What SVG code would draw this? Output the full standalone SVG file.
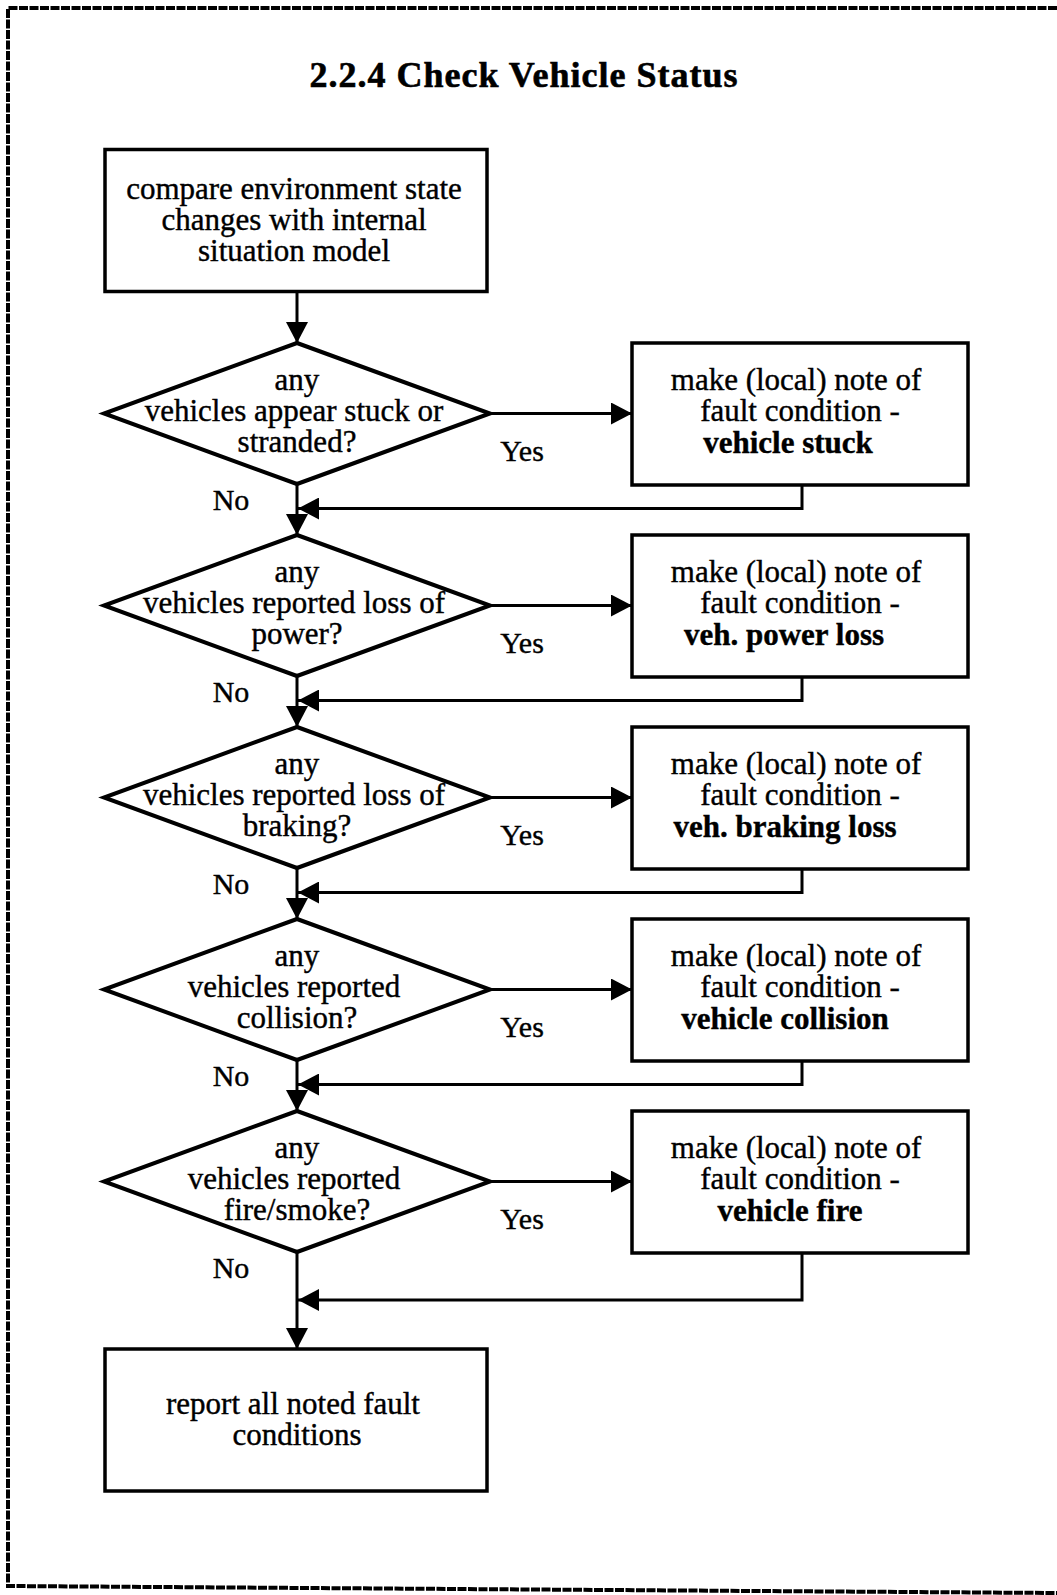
<svg xmlns="http://www.w3.org/2000/svg" width="1057" height="1595" viewBox="0 0 1057 1595">
  <style>
    .frame { fill: none; stroke: #000; stroke-width: 4; stroke-dasharray: 9 1.5; }
    .box { fill: #fff; stroke: #000; stroke-width: 3.5; }
    .dia { fill: #fff; stroke: #000; stroke-width: 4; stroke-linejoin: miter; }
    .line { fill: none; stroke: #000; stroke-width: 3; }
    text { font-family: "Liberation Serif", "Times New Roman", serif; font-size: 31px; fill: #000; stroke: #000; stroke-width: 0.4; text-anchor: middle; }
    .title { font-size: 36px; font-weight: bold; letter-spacing: 1px; stroke-width: 0.6; }
    .b { font-weight: bold; }
    .lbl { font-size: 30px; }
  </style>
  <defs>
    <marker id="arrow" markerUnits="userSpaceOnUse" markerWidth="22" markerHeight="22" refX="21" refY="11" orient="auto">
      <path d="M0,0 L21,11 L0,22 Z" fill="#000"/>
    </marker>
  </defs>

  <rect width="1057" height="1595" fill="#fff"/>
  <!-- page frame (open on the right) -->
  <path class="frame" d="M1057,8 H8 V1586 L1057,1593"/>

  <text class="title" x="524" y="87">2.2.4  Check Vehicle Status</text>

  <!-- connectors -->
  <g id="connectors">
    <!-- main flow downward -->
    <line class="line" x1="297" y1="292" x2="297" y2="343" marker-end="url(#arrow)"/>
    <line class="line" x1="297" y1="484" x2="297" y2="535" marker-end="url(#arrow)"/>
    <line class="line" x1="297" y1="676" x2="297" y2="727" marker-end="url(#arrow)"/>
    <line class="line" x1="297" y1="868" x2="297" y2="919" marker-end="url(#arrow)"/>
    <line class="line" x1="297" y1="1060" x2="297" y2="1111" marker-end="url(#arrow)"/>
    <line class="line" x1="297" y1="1252" x2="297" y2="1349" marker-end="url(#arrow)"/>
    <!-- Yes branches -->
    <line class="line" x1="490" y1="413.5" x2="632" y2="413.5" marker-end="url(#arrow)"/>
    <line class="line" x1="490" y1="605.5" x2="632" y2="605.5" marker-end="url(#arrow)"/>
    <line class="line" x1="490" y1="797.5" x2="632" y2="797.5" marker-end="url(#arrow)"/>
    <line class="line" x1="490" y1="989.5" x2="632" y2="989.5" marker-end="url(#arrow)"/>
    <line class="line" x1="490" y1="1181.5" x2="632" y2="1181.5" marker-end="url(#arrow)"/>
    <!-- returns from fault notes -->
    <path class="line" d="M802,485 V508.5 H298" marker-end="url(#arrow)"/>
    <path class="line" d="M802,677 V700.5 H298" marker-end="url(#arrow)"/>
    <path class="line" d="M802,869 V892.5 H298" marker-end="url(#arrow)"/>
    <path class="line" d="M802,1061 V1084.5 H298" marker-end="url(#arrow)"/>
    <path class="line" d="M802,1253 V1300 H298" marker-end="url(#arrow)"/>
    <!-- branch labels -->
    <g id="labels">
      <text class="lbl" x="522" y="461">Yes</text>
      <text class="lbl" x="231" y="510">No</text>
      <text class="lbl" x="522" y="653">Yes</text>
      <text class="lbl" x="231" y="702">No</text>
      <text class="lbl" x="522" y="845">Yes</text>
      <text class="lbl" x="231" y="894">No</text>
      <text class="lbl" x="522" y="1037">Yes</text>
      <text class="lbl" x="231" y="1086">No</text>
      <text class="lbl" x="522" y="1229">Yes</text>
      <text class="lbl" x="231" y="1278">No</text>
    </g>
  </g>

  <g id="compare">
    <rect class="box" x="105" y="149.5" width="382" height="142"/>
    <text x="294" y="198.5">compare environment state</text>
    <text x="294" y="229.5">changes with internal</text>
    <text x="294" y="260.5">situation model</text>
  </g>

  <g id="q-stuck">
    <polygon class="dia" points="297,343 490,413.5 297,484 104,413.5"/>
    <text x="297" y="390">any</text>
    <text x="294" y="421">vehicles appear stuck or</text>
    <text x="297" y="452">stranded?</text>
  </g>
  <g id="note-stuck">
    <rect class="box" x="632" y="343" width="336" height="142"/>
    <text x="796" y="389.5">make (local) note of</text>
    <text x="800" y="420.5">fault condition -</text>
    <text class="b" x="788" y="452.5">vehicle stuck</text>
  </g>

  <g id="q-power">
    <polygon class="dia" points="297,535 490,605.5 297,676 104,605.5"/>
    <text x="297" y="582">any</text>
    <text x="294" y="613">vehicles reported loss of</text>
    <text x="297" y="644">power?</text>
  </g>
  <g id="note-power">
    <rect class="box" x="632" y="535" width="336" height="142"/>
    <text x="796" y="581.5">make (local) note of</text>
    <text x="800" y="612.5">fault condition -</text>
    <text class="b" x="784" y="644.5">veh. power loss</text>
  </g>

  <g id="q-braking">
    <polygon class="dia" points="297,727 490,797.5 297,868 104,797.5"/>
    <text x="297" y="774">any</text>
    <text x="294" y="805">vehicles reported loss of</text>
    <text x="297" y="836">braking?</text>
  </g>
  <g id="note-braking">
    <rect class="box" x="632" y="727" width="336" height="142"/>
    <text x="796" y="773.5">make (local) note of</text>
    <text x="800" y="804.5">fault condition -</text>
    <text class="b" x="785" y="836.5">veh. braking loss</text>
  </g>

  <g id="q-collision">
    <polygon class="dia" points="297,919 490,989.5 297,1060 104,989.5"/>
    <text x="297" y="966">any</text>
    <text x="294" y="997">vehicles reported</text>
    <text x="297" y="1028">collision?</text>
  </g>
  <g id="note-collision">
    <rect class="box" x="632" y="919" width="336" height="142"/>
    <text x="796" y="965.5">make (local) note of</text>
    <text x="800" y="996.5">fault condition -</text>
    <text class="b" x="785" y="1028.5">vehicle collision</text>
  </g>

  <g id="q-fire">
    <polygon class="dia" points="297,1111 490,1181.5 297,1252 104,1181.5"/>
    <text x="297" y="1158">any</text>
    <text x="294" y="1189">vehicles reported</text>
    <text x="297" y="1220">fire/smoke?</text>
  </g>
  <g id="note-fire">
    <rect class="box" x="632" y="1111" width="336" height="142"/>
    <text x="796" y="1157.5">make (local) note of</text>
    <text x="800" y="1188.5">fault condition -</text>
    <text class="b" x="790" y="1220.5">vehicle fire</text>
  </g>

  <g id="report">
    <rect class="box" x="105" y="1349" width="382" height="142"/>
    <text x="293" y="1414">report all noted fault</text>
    <text x="297" y="1445">conditions</text>
  </g>
</svg>
